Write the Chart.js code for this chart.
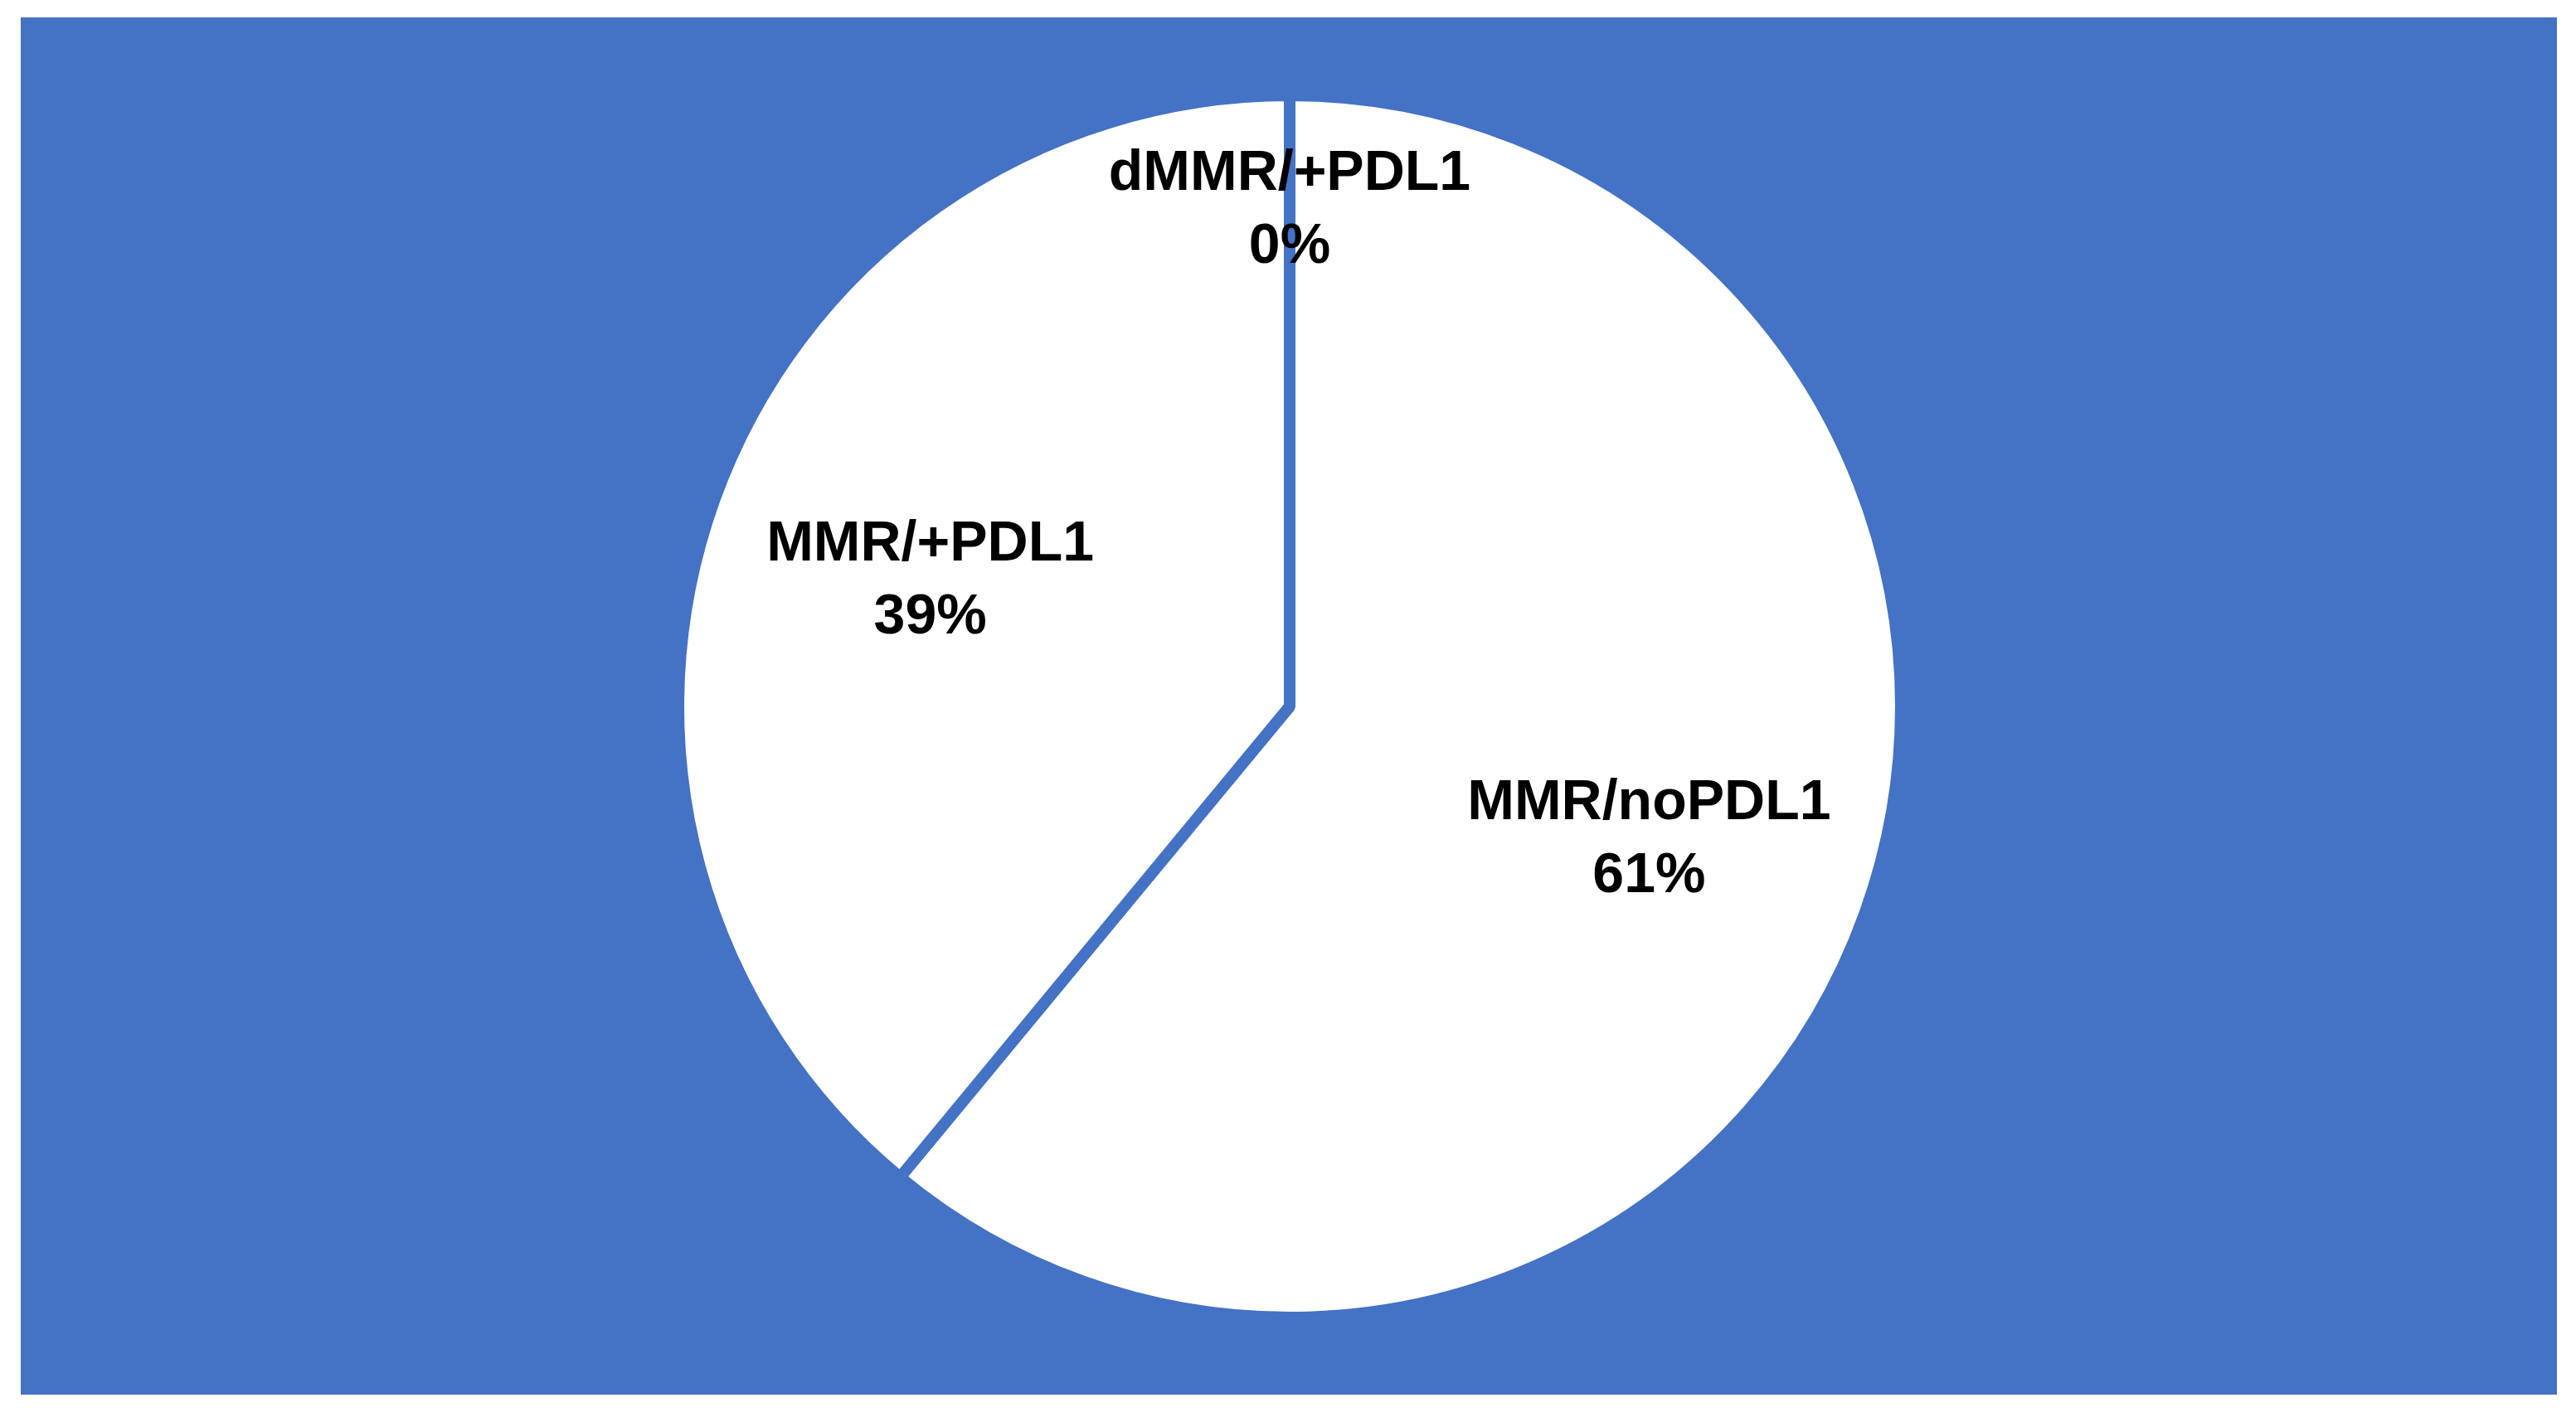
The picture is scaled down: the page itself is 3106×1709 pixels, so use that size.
<!DOCTYPE html>
<html>
<head>
<meta charset="utf-8">
<script src="https://cdn.jsdelivr.net/npm/chart.js@4"></script>
<style>
  html, body { margin: 0; padding: 0; background: #fff; }
  #wrap { width: 3106px; height: 1709px; }
</style>
</head>
<body>
<div id="wrap"><canvas id="chart1" width="3106" height="1709"></canvas></div>
<script>
// data
var categories = ['MMR/noPDL1', 'MMR/+PDL1', 'dMMR/+PDL1'];
var values = [61, 39, 0];

var blue = '#4472C4';

// blue panel behind the pie
var panel = {
    id: 'panel',
    beforeDraw: function (chart) {
        var c = chart.ctx;
        c.save();
        c.fillStyle = '#ffffff';
        c.fillRect(0, 0, chart.width, chart.height);
        c.fillStyle = blue;
        c.fillRect(25, 21, 3058, 1661);
        c.restore();
    }
};

// label + percent inside each slice
var sliceLabels = {
    id: 'sliceLabels',
    afterDatasetsDraw: function (chart) {
        var c = chart.ctx;
        var data = chart.data.datasets[0].data;
        var total = data.reduce(function (a, b) { return a + b; }, 0);
        var arcs = chart.getDatasetMeta(0).data;
        c.save();
        c.font = 'bold 68px "Liberation Sans", Arial, sans-serif';
        c.fillStyle = '#000';
        c.textAlign = 'center';
        c.textBaseline = 'alphabetic';
        arcs.forEach(function (arc, i) {
            var p = arc.getProps(['x', 'y', 'startAngle', 'endAngle', 'outerRadius'], true);
            var mid = (p.startAngle + p.endAngle) / 2;
            var f = data[i] > 0 ? 0.625 : 0.818;
            var cx = p.x + Math.cos(mid) * p.outerRadius * f;
            var cy = p.y + Math.sin(mid) * p.outerRadius * f;
            var pct = Math.round(data[i] / total * 100) + '%';
            c.fillText(chart.data.labels[i], cx, cy - 20);
            c.fillText(pct, cx, cy + 68);
        });
        c.restore();
    }
};

var ctx = document.getElementById('chart1').getContext('2d');
var myChart = new Chart(ctx, {
    type: 'pie',
    data: {
        labels: categories,
        datasets: [{
            data: values,
            backgroundColor: '#ffffff',
            borderColor: blue,
            borderWidth: 14
        }]
    },
    options: {
        responsive: false,
        animation: false,
        radius: 737,
        layout: {
            padding: { left: 4, bottom: 5 }
        },
        plugins: {
            legend: { display: false },
            tooltip: { enabled: false }
        }
    },
    plugins: [panel, sliceLabels]
});
</script>
</body>
</html>
